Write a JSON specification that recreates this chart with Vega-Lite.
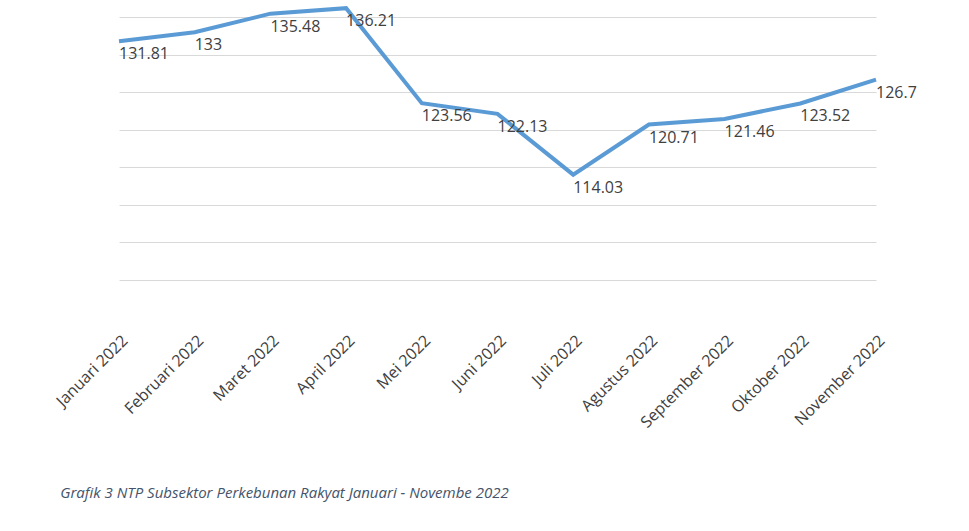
{
  "$schema": "https://vega.github.io/schema/vega-lite/v6.json",
  "width": 828,
  "height": 280,
  "autosize": {"type": "none"},
  "padding": {"left": 107, "top": 0, "right": 34, "bottom": 251},
  "background": "white",
  "config": {"view": {"stroke": null}, "font": "Liberation Sans"},
  "title": {
    "text": "Grafik 3 NTP Subsektor Perkebunan Rakyat Januari - Novembe 2022",
    "orient": "bottom",
    "anchor": "start",
    "dx": 7,
    "offset": 56,
    "font": "Open Sans",
    "fontSize": 15,
    "fontStyle": "italic",
    "fontWeight": "normal",
    "color": "#44546a"
  },
  "data": {
    "values": [
      {"bulan": "Januari 2022", "ntp": 131.81},
      {"bulan": "Februari 2022", "ntp": 133},
      {"bulan": "Maret 2022", "ntp": 135.48},
      {"bulan": "April 2022", "ntp": 136.21},
      {"bulan": "Mei 2022", "ntp": 123.56},
      {"bulan": "Juni 2022", "ntp": 122.13},
      {"bulan": "Juli 2022", "ntp": 114.03},
      {"bulan": "Agustus 2022", "ntp": 120.71},
      {"bulan": "September 2022", "ntp": 121.46},
      {"bulan": "Oktober 2022", "ntp": 123.52},
      {"bulan": "November 2022", "ntp": 126.7}
    ]
  },
  "encoding": {
    "x": {
      "field": "bulan", "type": "ordinal", "sort": null, "title": null,
      "scale": {"type": "point", "padding": 0, "range": [12, 769]},
      "axis": {"labelAngle": -45, "labelAlign": "right", "labelBaseline": "top", "labelFontSize": 16, "labelColor": "#404040", "labelFont": "Open Sans", "domain": false, "ticks": false, "labelPadding": 52}
    },
    "y": {
      "field": "ntp", "type": "quantitative", "title": null,
      "scale": {"domain": [100, 137.3], "nice": false, "zero": false},
      "axis": {"values": [100, 105, 110, 115, 120, 125, 130, 135], "labels": false, "ticks": false, "domain": false, "gridColor": "#d9d9d9", "gridWidth": 1}
    }
  },
  "layer": [
    {"mark": {"type": "line", "color": "#5b9bd5", "strokeWidth": 4, "clip": false}},
    {
      "mark": {"type": "text", "align": "left", "baseline": "middle", "dy": 13, "fontSize": 16, "color": "#404040", "font": "Open Sans"},
      "encoding": {"text": {"field": "ntp", "type": "quantitative"}}
    }
  ]
}
